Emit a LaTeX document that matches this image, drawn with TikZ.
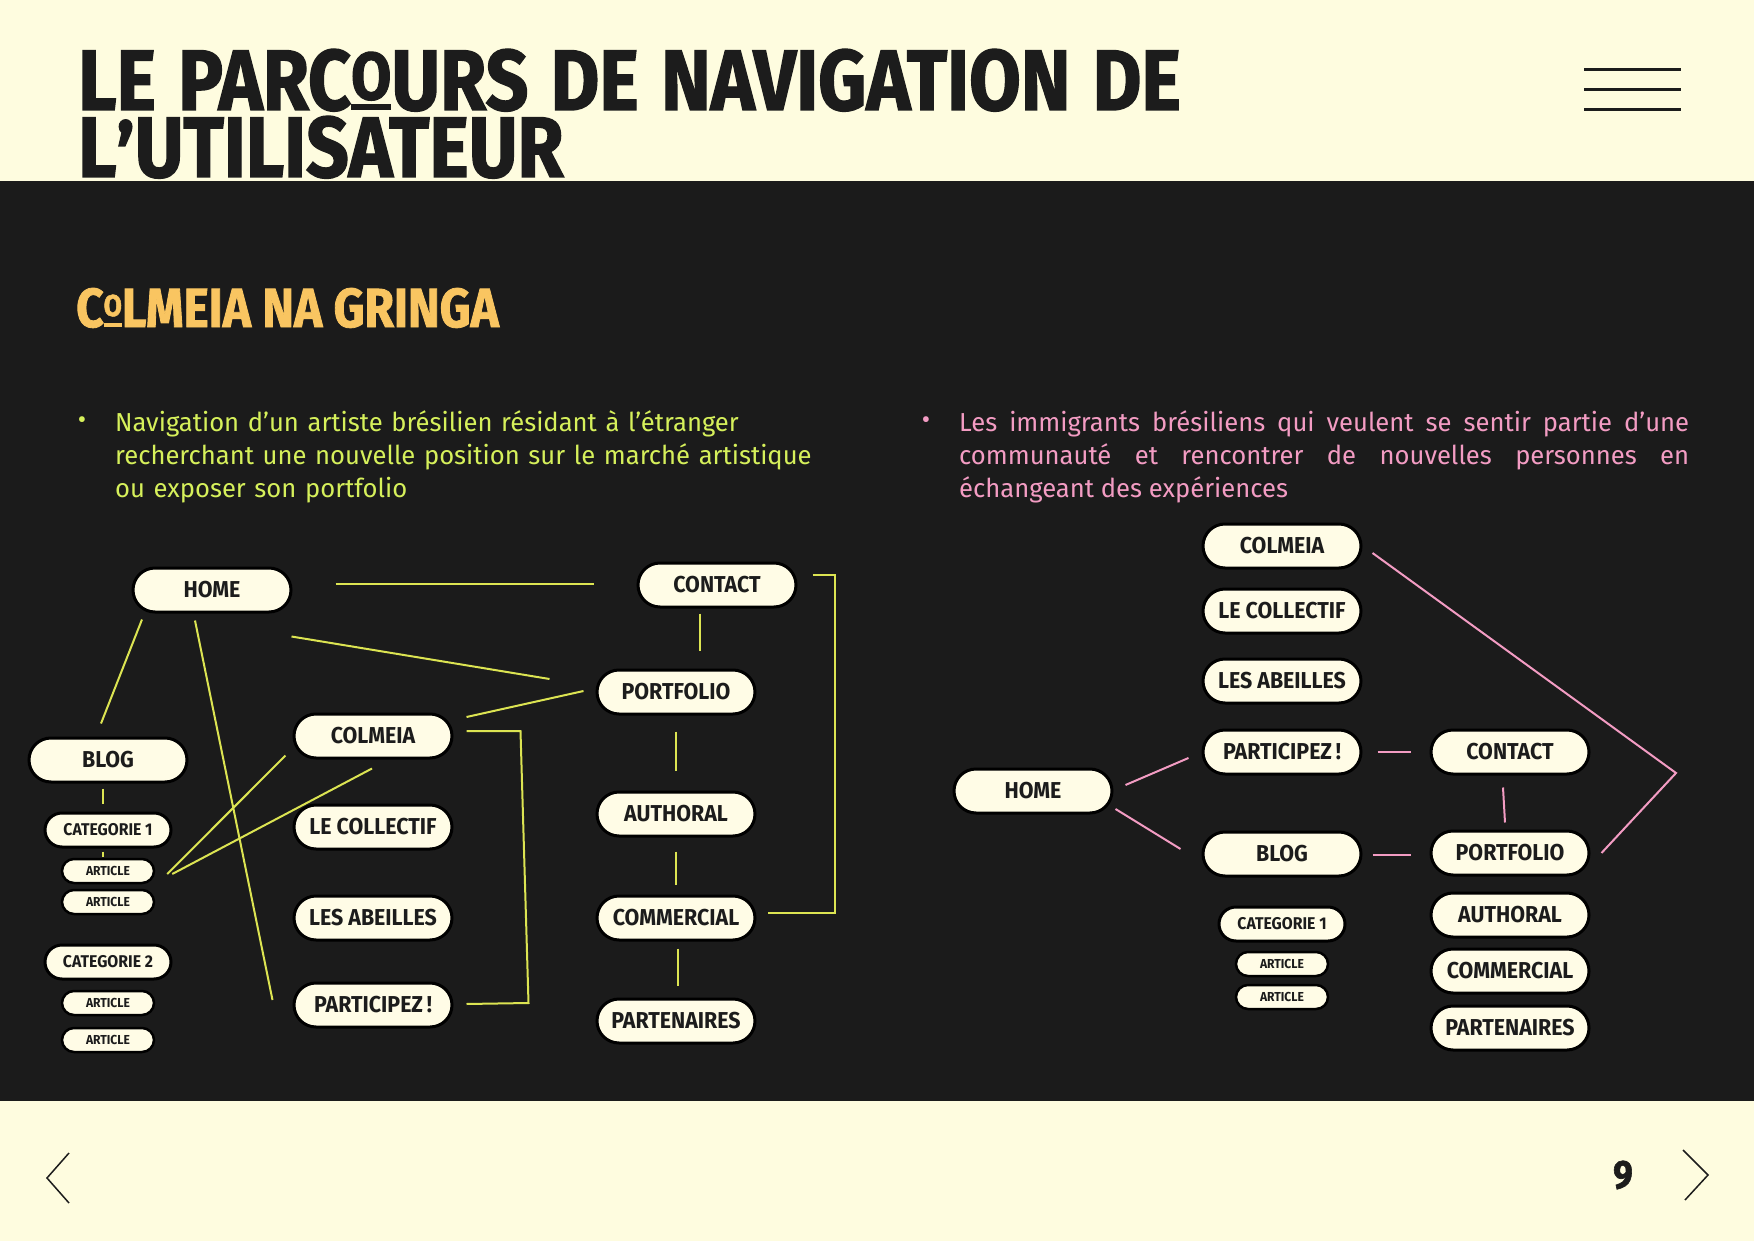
\documentclass[tikz,border=0pt]{standalone}
\usepackage{fontspec}
\usepackage{graphicx}
\setmainfont{Fira Sans}
\newfontfamily\titlefont[FakeStretch=0.87,FakeBold=1.5]{Fira Sans}
\newfontfamily\bodyfont[FakeStretch=0.985]{Fira Sans}
\newfontfamily\nodefont[FakeStretch=0.93]{Fira Sans}
\usetikzlibrary{positioning,calc}
\definecolor{cream}{HTML}{FEFCDF}
\definecolor{ink}{HTML}{1C1C1C}
\definecolor{band}{HTML}{1B1B1B}
\definecolor{boxfill}{HTML}{FFFCE6}
\definecolor{gold}{HTML}{F9C561}
\definecolor{lime}{HTML}{D6F05B}
\definecolor{limeline}{HTML}{DCE452}
\definecolor{rose}{HTML}{F39CC3}
\newcommand{\barO}[2]{\leavevmode\vbox{\hbox{\scalebox{#1}{O}}\kern#2\hrule height .07em}}

\begin{document}
\begin{tikzpicture}[
  x=1pt, y=-1pt,
  menu/.style={draw=black, line width=3pt, fill=boxfill, rounded corners=22pt, minimum width=158pt, minimum height=44pt, inner sep=0pt, text=ink, font=\nodefont\bfseries\fontsize{23}{23}\selectfont},
  catbox/.style={menu, rounded corners=17pt, minimum width=126pt, minimum height=34pt, font=\nodefont\bfseries\fontsize{17}{17}\selectfont},
  artbox/.style={menu, line width=2.5pt, rounded corners=12pt, minimum width=92pt, minimum height=24pt, font=\nodefont\bfseries\fontsize{13}{13}\selectfont},
  yline/.style={draw=limeline, line width=2pt},
  pline/.style={draw=rose, line width=2pt},
  chev/.style={draw=ink, line width=1.5pt},
  heading/.style={anchor=base west, inner sep=0pt, text=ink, font=\titlefont\bfseries\fontsize{86}{86}\selectfont, execute at begin node={\spaceskip=0.26em\relax}}
]
\useasboundingbox (0,0) rectangle (1754,1241);
\fill[cream] (0,0) rectangle (1754,1241);
\fill[band] (0,181) rectangle (1754,1101);

\node[heading] (title1) at (78,110) {LE PARC\barO{0.78}{0.04em}URS DE NAVIGATION DE};
\node[heading] (title2) at (78,177) {L\raisebox{-0.1em}{’}UTILISATEUR};
\draw[ink, line width=3pt] (1584,70) -- (1681,70) (1584,90) -- (1681,90) (1584,110) -- (1681,110);

\node[anchor=base west, inner sep=0pt, text=gold, font=\titlefont\bfseries\fontsize{55}{55}\selectfont] (brand) at (76,327) {C\barO{0.55}{0.12em}LMEIA NA GRINGA};

\node[text=lime, font=\bodyfont\fontsize{26}{33}\selectfont] (lbullet) at (82,423) {•};
\node[anchor=base west, inner sep=0pt, text width=720pt, align=left, text=lime, font=\bodyfont\fontsize{26}{33.3}\selectfont] (ltext) at (115,431) {Navigation d’un artiste brésilien résidant à l’étranger\\recherchant une nouvelle position sur le marché artistique\\ou exposer son portfolio};
\node[text=rose, font=\bodyfont\fontsize{26}{33}\selectfont] (rbullet) at (926,423) {•};
\node[anchor=base west, inner sep=0pt, text width=730pt, align=justify, text=rose, font=\bodyfont\fontsize{26}{33.3}\selectfont] (rtext) at (959,431) {Les immigrants brésiliens qui veulent se sentir partie d’une\linebreak communauté et rencontrer de nouvelles personnes en\linebreak échangeant des expériences};

% artiste
\node[menu] (home) at (212,590) {HOME};
\node[menu] (contact) at (717,585) {CONTACT};
\node[menu] (portfolio) at (676,692) {PORTFOLIO};
\node[menu] (authoral) at (676,814) {AUTHORAL};
\node[menu] (commercial) at (676,918) {COMMERCIAL};
\node[menu] (partenaires) at (676,1021) {PARTENAIRES};
\node[menu] (colmeia) at (373,736) {COLMEIA};
\node[menu] (collectif) at (373,827) {LE COLLECTIF};
\node[menu] (abeilles) at (373,918) {LES ABEILLES};
\node[menu] (participez) at (373,1005) {PARTICIPEZ\,!};
\node[menu] (blog) at (108,760) {BLOG};
\node[catbox] (cat1) at (108,830) {CATEGORIE 1};
\node[artbox] (art1) at (108,871) {ARTICLE};
\node[artbox] (art2) at (108,902) {ARTICLE};
\node[catbox] (cat2) at (108,962) {CATEGORIE 2};
\node[artbox] (art3) at (108,1003) {ARTICLE};
\node[artbox] (art4) at (108,1040) {ARTICLE};

\draw[yline] ([shift={(43,-6)}]home.east) -- ([shift={(-43,-1)}]contact.west);
\draw[yline] ([shift={(-1,23)}]home.south east) -- ([shift={(-46,-13)}]portfolio.west);
\draw[yline] ([shift={(-17,5)}]contact.south) -- ([shift={(24,-18)}]portfolio.north);
\draw[yline] ([shift={(-12,-1)}]portfolio.west) -- ([shift={(13,-19)}]colmeia.east);
\draw[yline] ([shift={(15,-10)}]contact.east) -- ++(22,0) |- ([shift={(11,-5)}]commercial.east);
\draw[yline] ([shift={(0,16)}]portfolio.south) -- ([shift={(0,-20)}]authoral.north);
\draw[yline] ([shift={(0,14)}]authoral.south) -- ([shift={(0,-10)}]commercial.north);
\draw[yline] ([shift={(2,7)}]commercial.south) -- ([shift={(2,-12)}]partenaires.north);
\draw[yline] ([shift={(13,-5)}]colmeia.east) -- ++(54,0) -- ([shift={(75,-2)}]participez.east) -- ([shift={(13,-1)}]participez.east);
\draw[yline] ([shift={(-70,6)}]home.south) -- ([shift={(-7,-13)}]blog.north);
\draw[yline] ([shift={(-17,7)}]home.south) -- ([shift={(-20,-5)}]participez.west);
\draw[yline] ([shift={(-5,5)}]blog.south) -- ([shift={(-5,-8)}]cat1.north);
\draw[yline] ([shift={(-5,3)}]cat1.south) -- ([shift={(-5,-1)}]art1.north);
\draw[yline] ([shift={(-7,-4)}]colmeia.south west) -- ([shift={(12,3)}]art1.east);
\draw[yline] ([shift={(-1,9)}]colmeia.south) -- ([shift={(17,3)}]art1.east);

% immigrants
\node[menu] (rhome) at (1033,791) {HOME};
\node[menu] (rcolmeia) at (1282,546) {COLMEIA};
\node[menu] (rcollectif) at (1282,611) {LE COLLECTIF};
\node[menu] (rabeilles) at (1282,681) {LES ABEILLES};
\node[menu] (rparticipez) at (1282,752) {PARTICIPEZ\,!};
\node[menu] (rblog) at (1282,854) {BLOG};
\node[catbox] (rcat1) at (1282,924) {CATEGORIE 1};
\node[artbox] (rart1) at (1282,964) {ARTICLE};
\node[artbox] (rart2) at (1282,997) {ARTICLE};
\node[menu] (rcontact) at (1510,752) {CONTACT};
\node[menu] (rportfolio) at (1510,853) {PORTFOLIO};
\node[menu] (rauthoral) at (1510,915) {AUTHORAL};
\node[menu] (rcommercial) at (1510,971) {COMMERCIAL};
\node[menu] (rpartenaires) at (1510,1028) {PARTENAIRES};
\coordinate (rbend) at (1676,773);

\draw[pline] ([shift={(12,-6)}]rhome.east) -- ([shift={(-13,6)}]rparticipez.west);
\draw[pline] ([shift={(2,18)}]rhome.east) -- ([shift={(-21,-5)}]rblog.west);
\draw[pline] ([shift={(15,0)}]rparticipez.east) -- ([shift={(-19,0)}]rcontact.west);
\draw[pline] ([shift={(10,1)}]rblog.east) -- ([shift={(-19,2)}]rportfolio.west);
\draw[pline] ([shift={(-7,12)}]rcontact.south) -- ([shift={(-5,-7)}]rportfolio.north);
\draw[pline] ([shift={(10,7)}]rcolmeia.east) -- (rbend) -- ([shift={(11,0)}]rportfolio.east);

\draw[chev] (69,1153) -- (47,1178) -- (69,1203);
\draw[chev] (1683,1150) -- (1708,1175) -- (1685,1200);
\node[text=ink, font=\titlefont\bfseries\fontsize{40}{40}\selectfont] (pageno) at (1623,1175) {9};
\end{tikzpicture}
\end{document}
